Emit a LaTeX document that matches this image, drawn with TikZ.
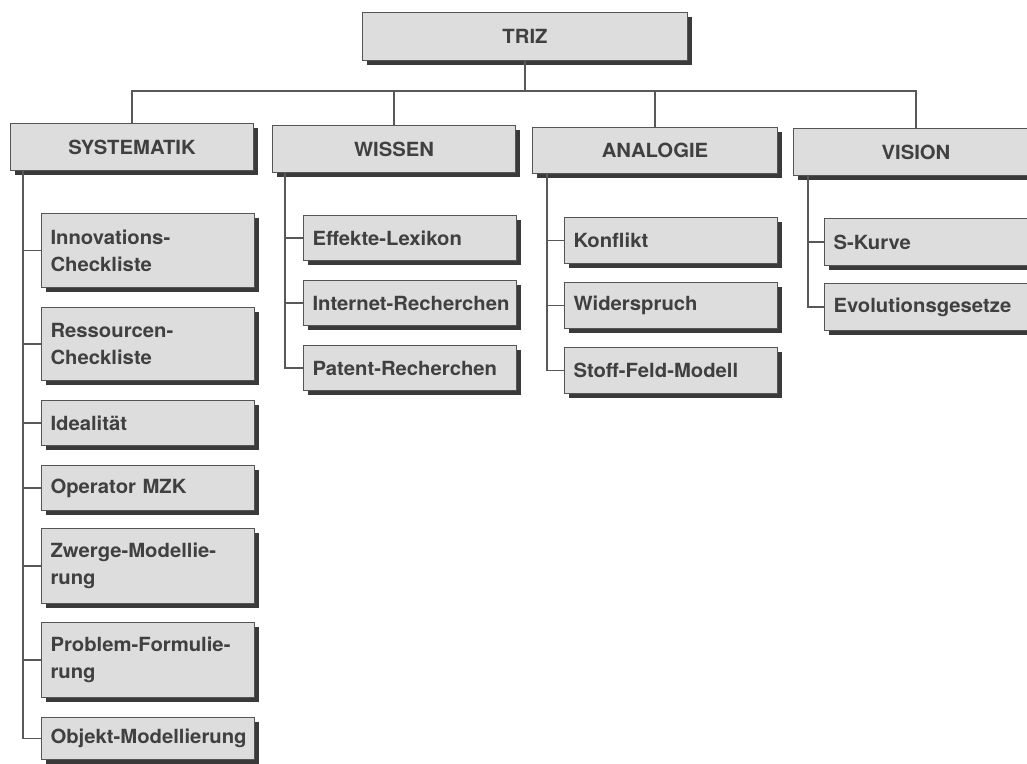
\documentclass[tikz,border=0pt]{standalone}
\usepackage{fontspec}
\setmainfont{TeX Gyre Heros}[FakeStretch=1.04]
\usetikzlibrary{shadows}

\definecolor{boxfill}{HTML}{DDDDDD}
\definecolor{boxline}{HTML}{555555}
\definecolor{boxshade}{HTML}{3A3A3A}
\definecolor{inktext}{HTML}{404040}
\definecolor{wire}{HTML}{585858}

\newcommand{\cardfont}{\fontsize{19.5}{27}\selectfont\bfseries\hyphenpenalty=10000 \exhyphenpenalty=10000 }

\tikzset{
  card/.style={draw=boxline, fill=boxfill, line width=1pt, anchor=north west,
    drop shadow={shadow xshift=4pt, shadow yshift=-4pt, fill=boxshade, opacity=1},
    inner sep=0pt, font=\cardfont, text=inktext},
  headbox/.style={card, align=center},
  itembox/.style={card, align=left, inner xsep=9pt, text width=195pt},
  link/.style={draw=wire, line width=1.2pt},
}

\begin{document}
\begin{tikzpicture}[x=1pt, y=-1pt]
  \useasboundingbox (0,0) rectangle (1027,763);
  \clip (0,0) rectangle (1027,763);
  \fill[white] (0,0) rectangle (1027,763);

  % root and the four branches
  \node[headbox, minimum width=325pt, minimum height=48pt] (triz) at (362,12) {TRIZ};
  \node[headbox, minimum width=243pt, minimum height=47pt] (sys) at (10,123) {SYSTEMATIK};
  \node[headbox, minimum width=243pt, minimum height=47pt] (wis) at (272,125) {WISSEN};
  \node[headbox, minimum width=245pt, minimum height=46pt] (ana) at (532,127) {ANALOGIE};
  \node[headbox, minimum width=245pt, minimum height=47pt] (vis) at (793,128) {VISION};

  % SYSTEMATIK
  \node[itembox, minimum height=74pt] (inno) at (41,213) {Innovations-\\Checkliste};
  \node[itembox, minimum height=73pt] (res)  at (41,307) {Ressourcen-\\Checkliste};
  \node[itembox, minimum height=45pt] (ide)  at (41,400) {Idealität};
  \node[itembox, minimum height=45pt] (op)   at (41,465) {Operator MZK};
  \node[itembox, minimum height=75pt] (zw)   at (41,528) {Zwerge-Modellie-\\rung};
  \node[itembox, minimum height=75pt] (pro)  at (41,622) {Problem-Formulie-\\rung};
  \node[itembox, minimum height=42pt] (obj)  at (41,717) {Objekt-Modellierung};

  % WISSEN
  \node[itembox, minimum height=45pt] (eff) at (303,215) {Effekte-Lexikon};
  \node[itembox, minimum height=45pt] (int) at (303,280) {Internet-Recherchen};
  \node[itembox, minimum height=45pt] (pat) at (303,345) {Patent-Recherchen};

  % ANALOGIE
  \node[itembox, minimum height=46pt] (kon) at (564,217) {Konflikt};
  \node[itembox, minimum height=46pt] (wid) at (564,282) {Widerspruch};
  \node[itembox, minimum height=46pt] (sto) at (564,347) {Stoff-Feld-Modell};

  % VISION
  \node[itembox, minimum height=47pt] (sk)  at (824,218) {S-Kurve};
  \node[itembox, minimum height=47pt] (evo) at (824,283) {Evolutionsgesetze};

  % bus from the root to the branches
  \coordinate (bus) at (0,91);
  \draw[link] (triz.south) -- (triz.south |- bus);
  \draw[link] (sys.north) -- (sys.north |- bus) -- (vis.north |- bus) -- (vis.north);
  \draw[link] (wis.north) -- (wis.north |- bus);
  \draw[link] (ana.north) -- (ana.north |- bus);

  % trunks down each branch
  \coordinate (systrunk) at (23,0);
  \coordinate (wistrunk) at (285,0);
  \coordinate (anatrunk) at (547,0);
  \coordinate (vistrunk) at (808,0);

  \draw[link] (sys.south -| systrunk) |- (obj.west);
  \foreach \n in {inno,res,ide,op,zw,pro}
    \draw[link] (\n.west) -- (\n.west -| systrunk);

  \draw[link] (wis.south -| wistrunk) |- (pat.west);
  \foreach \n in {eff,int}
    \draw[link] (\n.west) -- (\n.west -| wistrunk);

  \draw[link] (ana.south -| anatrunk) |- (sto.west);
  \foreach \n in {kon,wid}
    \draw[link] (\n.west) -- (\n.west -| anatrunk);

  \draw[link] (vis.south -| vistrunk) |- (evo.west);
  \draw[link] (sk.west) -- (sk.west -| vistrunk);
\end{tikzpicture}
\end{document}
